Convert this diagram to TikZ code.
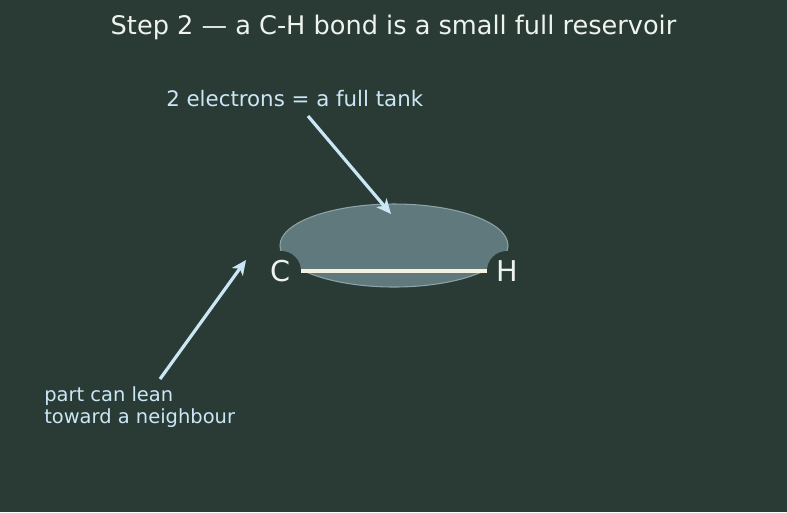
\documentclass[tikz,border=0pt]{standalone}
\usepackage{fontspec}
\setmainfont{DejaVu Sans}
\usetikzlibrary{arrows.meta,positioning,shapes.geometric}
\definecolor{bgdark}{HTML}{2A3B36}
\definecolor{tankfill}{HTML}{5F797C}
\definecolor{tankedge}{HTML}{8EA3A6}
\definecolor{notecol}{HTML}{CBE6F5}
\definecolor{bondcol}{HTML}{F5F1E0}
\definecolor{titlecol}{HTML}{EEF3EE}

\begin{document}
\begin{tikzpicture}[
  x=0.75pt, y=-0.75pt,
  atom/.style={circle, fill=bgdark, inner sep=0pt, minimum size=40*0.75pt, text=titlecol, font=\fontsize{21.5}{25}\selectfont},
  note/.style={text=notecol, align=left, inner sep=0pt},
  arr/.style={-{Stealth[length=11pt, width=10pt, inset=3pt]}, draw=notecol, line width=2.4pt}
]
\fill[bgdark] (0,0) rectangle (787,512);
\useasboundingbox (0,0) rectangle (787,512);

\node[text=titlecol, font=\fontsize{19.2}{23}\selectfont] (title) at (393.5,27) {Step 2 — a C-H bond is a small full reservoir};

% the reservoir
\node[ellipse, draw=tankedge, fill=tankfill, line width=0.8pt, minimum width=228*0.75pt, minimum height=83*0.75pt, inner sep=0pt] (tank) at (394,245.5) {};
\node[atom] (C) at (281,271) {C};
\node[atom] (H) at (507,271) {H};
\draw[bondcol, line width=2.6pt] (C.east) -- (H.west);

\node[note, anchor=west, font=\fontsize{16}{19}\selectfont] (full) at (166,99) {2 electrons = a full tank};
\node[note, anchor=north west, font=\fontsize{14.6}{16.5}\selectfont] (lean) at (44,386) {part can lean\\toward a neighbour};

\coordinate (fullend) at (391,214);
\coordinate (fullstart) at (308,116);
\coordinate (leanend) at (246,260);
\coordinate (leanstart) at (160,379);
\draw[arr] (fullstart) -- (fullend);
\draw[arr] (leanstart) -- (leanend);
\end{tikzpicture}
\end{document}
